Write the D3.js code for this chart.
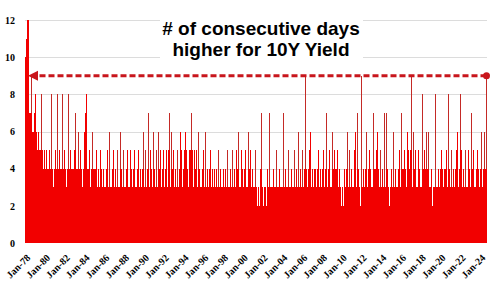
<!DOCTYPE html>
<html>
<head>
<meta charset="utf-8">
<script src="https://cdn.jsdelivr.net/npm/d3@7"></script>
<style>
  body { margin: 0; background: #fff; }
  svg { display: block; }
</style>
</head>
<body>
<div id="chart"></div>
<script>
// consecutive up-days for the 10Y yield, one value per pixel column (max streak in that slice)
var streaks = [
  10,11,12,12,7,7,9,6,6,7,
  8,6,5,6,5,5,8,5,4,5,
  4,5,4,4,5,4,8,4,3,4,
  5,4,8,4,5,4,4,8,4,5,
  4,3,4,8,4,5,4,4,4,5,
  7,4,4,6,4,5,4,3,4,6,
  7,8,4,4,5,3,4,6,4,4,
  4,5,3,4,3,5,4,3,4,3,
  3,4,5,3,6,3,3,4,5,3,
  4,3,5,3,3,6,4,3,5,3,
  3,4,5,3,3,5,4,3,4,5,
  3,3,4,5,3,4,3,4,6,3,
  5,3,4,7,3,5,4,3,6,4,
  3,5,3,6,4,5,3,4,5,3,
  4,5,3,5,7,3,6,4,5,3,
  4,3,5,3,4,6,5,3,4,5,
  6,5,4,3,5,5,7,5,3,5,
  4,5,3,6,4,3,3,4,5,3,
  6,3,4,3,4,5,3,4,3,4,
  3,4,3,5,3,4,3,3,4,3,
  4,3,5,3,3,4,3,5,3,4,
  3,5,4,6,3,3,5,4,3,4,
  5,3,3,6,4,5,3,4,3,3,
  5,3,2,3,2,4,7,3,2,3,
  3,2,4,3,7,3,3,3,4,3,
  3,5,3,3,4,3,3,3,7,3,
  4,3,3,5,3,3,4,3,3,5,
  3,4,3,6,3,4,3,5,3,4,
  9,4,3,4,5,6,3,4,3,4,
  4,3,4,5,3,4,3,4,5,3,
  4,7,3,4,5,3,3,6,4,5,
  4,4,5,3,4,3,2,3,2,4,
  3,4,6,3,5,3,4,3,3,5,
  6,3,7,4,3,2,9,3,4,3,
  4,6,3,4,5,4,3,3,7,4,
  4,5,6,4,3,5,3,4,3,7,
  3,7,4,3,2,3,4,3,6,3,
  4,3,3,4,5,3,7,4,4,5,
  4,3,6,5,4,5,9,3,6,4,
  5,3,3,5,4,3,3,8,4,5,
  4,6,4,6,3,3,4,2,3,3,
  8,3,3,4,3,4,5,4,3,4,
  4,5,3,8,4,3,5,3,4,3,
  4,5,6,3,4,8,5,3,4,3,
  5,3,3,5,4,3,7,4,5,3,
  3,4,5,4,3,4,6,3,4,6,
  4,9
];
var tickLabels = ["Jan-78","Jan-80","Jan-82","Jan-84","Jan-86","Jan-88","Jan-90","Jan-92",
  "Jan-94","Jan-96","Jan-98","Jan-00","Jan-02","Jan-04","Jan-06","Jan-08","Jan-10","Jan-12",
  "Jan-14","Jan-16","Jan-18","Jan-20","Jan-22","Jan-24"];
var yTicks = [0, 2, 4, 6, 8, 10, 12];
var currentStreak = 9;
var titleLines = ["# of consecutive days", "higher for 10Y Yield"];

var width = 500, height = 282;
var margin = {top: 20, right: 13, bottom: 39, left: 25};

var svg = d3.select("#chart").append("svg")
  .attr("width", width)
  .attr("height", height);

var parse = d3.timeParse("%b-%y");
var x = d3.scaleBand()
  .domain(d3.range(streaks.length))
  .range([margin.left, width - margin.right])
  .padding(0);
var xt = d3.scaleTime()
  .domain([parse("Jan-78"), new Date(2024, 8, 15)])
  .range([margin.left, width - margin.right]);
var y = d3.scaleLinear()
  .domain([0, 12])
  .range([height - margin.bottom, margin.top]);

// gridlines
svg.append("g")
  .selectAll("line")
  .data(yTicks.filter(function(d) { return d > 0; }))
  .enter().append("line")
  .attr("x1", margin.left).attr("x2", width - margin.right)
  .attr("y1", function(d) { return Math.round(y(d)) + 0.5; })
  .attr("y2", function(d) { return Math.round(y(d)) + 0.5; })
  .style("stroke", "#dcdcdc");

// y axis labels
var yAxis = svg.append("g")
  .attr("transform", "translate(" + (margin.left - 10) + ",0)")
  .call(d3.axisLeft(y).tickValues(yTicks).tickSize(0).tickPadding(0));
yAxis.select(".domain").remove();
yAxis.selectAll("text")
  .style("font-family", "'Liberation Serif', 'Times New Roman', serif")
  .style("font-weight", "bold")
  .style("font-size", "10px")
  .style("fill", "#000");

// bars
svg.append("g")
  .selectAll("rect")
  .data(streaks)
  .enter().append("rect")
  .attr("x", function(d, i) { return x(i); })
  .attr("width", x.bandwidth())
  .attr("y", function(d) { return y(d); })
  .attr("height", function(d) { return y(0) - y(d); })
  .attr("shape-rendering", "crispEdges")
  .style("fill", "#f20000");

// darker tips on the thin lone spikes
svg.append("g")
  .selectAll("rect")
  .data(streaks.map(function(d, i) {
    var nb = Math.max(i > 0 ? streaks[i - 1] : 0, i < streaks.length - 1 ? streaks[i + 1] : 0);
    return {i: i, v: d, nb: nb};
  }).filter(function(d) { return d.v - d.nb >= 2; }))
  .enter().append("rect")
  .attr("x", function(d) { return x(d.i); })
  .attr("width", x.bandwidth())
  .attr("y", function(d) { return y(d.v); })
  .attr("height", function(d) { return y(d.nb) - y(d.v); })
  .attr("shape-rendering", "crispEdges")
  .style("fill", "#c42a26");

// x axis labels
var xAxis = svg.append("g")
  .attr("transform", "translate(0," + (height - margin.bottom) + ")")
  .call(d3.axisBottom(xt).tickValues(tickLabels.map(parse)).tickFormat(d3.timeFormat("%b-%y")).tickSize(0));
xAxis.select(".domain").remove();
xAxis.selectAll("text")
  .attr("text-anchor", "end")
  .attr("dy", "0.35em")
  .attr("y", 0)
  .attr("transform", "translate(3,13) rotate(-45)")
  .style("font-family", "'Liberation Serif', 'Times New Roman', serif")
  .style("font-weight", "bold")
  .style("font-size", "10px")
  .style("fill", "#000");

// title box
svg.append("rect")
  .attr("x", 160).attr("y", 18).attr("width", 203).attr("height", 44)
  .style("fill", "#fff");
svg.append("g")
  .selectAll("text")
  .data(titleLines)
  .enter().append("text")
  .attr("x", 261)
  .attr("y", function(d, i) { return 35 + i * 21; })
  .attr("text-anchor", "middle")
  .style("font-family", "'Liberation Sans', Arial, sans-serif")
  .style("font-weight", "bold")
  .style("font-size", "19px")
  .style("fill", "#000")
  .text(function(d) { return d; });

// dashed arrow back to the last 9-day streak
var lastX = x(streaks.length - 1) + x.bandwidth() / 2;
var arrowY = y(currentStreak);
var tipX = 28;
svg.append("line")
  .attr("x1", lastX).attr("x2", tipX + 7)
  .attr("y1", arrowY).attr("y2", arrowY)
  .style("stroke", "#c8161c")
  .style("stroke-width", 3)
  .style("stroke-dasharray", "6,3");
svg.append("path")
  .attr("d", "M" + tipX + "," + arrowY + "L" + (tipX + 10) + "," + (arrowY - 5) + "L" + (tipX + 10) + "," + (arrowY + 5) + "Z")
  .style("fill", "#c8161c");
svg.append("circle")
  .attr("cx", lastX).attr("cy", arrowY).attr("r", 3.5)
  .style("fill", "#c8161c");
</script>
</body>
</html>
